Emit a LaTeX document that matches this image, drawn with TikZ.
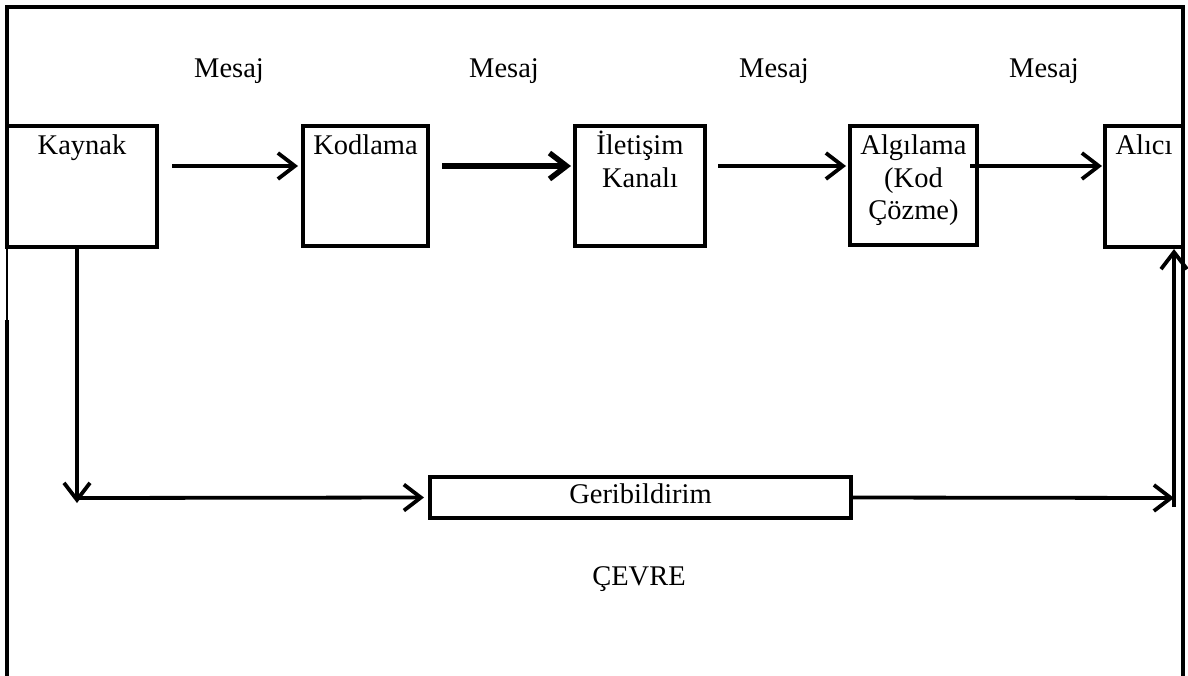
\documentclass[tikz,border=0pt]{standalone}
\usepackage{fontspec}
\setmainfont{Liberation Serif}
\usetikzlibrary{arrows.meta,calc}
\newcommand\tstrut{\rule{0pt}{24pt}}
\tikzset{
  txt/.style={font=\fontsize{28.5}{32.5}\selectfont, inner sep=0pt, outer sep=0pt},
  lbl/.style={txt, align=center, anchor=north, yshift=-5pt},
  box/.style={draw, line width=4pt, inner sep=0pt, outer sep=0pt},
  arr/.style={line width=3.8pt, -{Straight Barb[length=17pt,width=26pt]}},
  thickarr/.style={arr, line width=5.5pt},
  frame/.style={line width=4pt}
}
\begin{document}
\begin{tikzpicture}[x=1pt,y=-1pt]
\useasboundingbox (0,0) rectangle (1188,676);

% outer frame (open at the bottom)
\draw[frame] (7,247) -- (7,7) -- (1183,7) -- (1183,676);
\draw[line width=2pt] (7,247) -- (7,320);
\draw[frame] (6.5,320) -- (6.5,676);

% main chain boxes
\node[box, minimum width=150pt, minimum height=121pt,
      label={[lbl, name=kaynak-t]north:\tstrut Kaynak}] (kaynak) at (82,186.5) {};
\node[box, minimum width=125pt, minimum height=120pt,
      label={[lbl, name=kodlama-t]north:\tstrut Kodlama}] (kodlama) at (365.5,186) {};
\node[box, minimum width=130pt, minimum height=120pt,
      label={[lbl, name=kanal-t]north:\tstrut İletişim\\Kanalı}] (kanal) at (640,186) {};
\node[box, minimum width=127pt, minimum height=119pt,
      label={[lbl, name=algilama-t]north:\tstrut Algılama\\(Kod\\Çözme)}] (algilama) at (913.5,185.5) {};
\node[box, minimum width=78pt, minimum height=121pt,
      label={[lbl, name=alici-t]north:\tstrut Alıcı}] (alici) at (1144,186.5) {};

% feedback box
\node[box, line width=3.5pt, minimum width=421pt, minimum height=41pt,
      txt, text height=19pt, text depth=8pt] (geri) at (640.5,497.5) {Geribildirim};

% message labels
\node[txt, anchor=base] (m1) at (229,78) {Mesaj};
\node[txt, anchor=base] (m2) at (504,78) {Mesaj};
\node[txt, anchor=base] (m3) at (774,78) {Mesaj};
\node[txt, anchor=base] (m4) at (1044,78) {Mesaj};

% environment label
\node[txt, anchor=base] (cevre) at (639,585) {ÇEVRE};

% arrow row
\coordinate (row) at (0,166);
\draw[arr, shorten <=15pt, shorten >=5pt] (kaynak.east |- row) -- (kodlama.west |- row);
\draw[thickarr, shorten <=14pt, shorten >=4pt] (kodlama.east |- row) -- (kanal.west |- row);
\draw[arr, shorten <=13pt, shorten >=4pt] (kanal.east |- row) -- (algilama.west |- row);
\draw[arr, shorten <=-7pt, shorten >=3pt] (algilama.east |- row) -- (alici.west |- row);

% feedback loop
\coordinate (fbl) at (77,498);
\coordinate (fbld) at (77,503);
\coordinate (fbr) at (1174,498);
\coordinate (fbrd) at (1174,507);
\draw[arr] (kaynak.south -| fbl) -- (fbld);
\draw[arr, shorten >=6pt] (fbl) -- (geri.west);
\draw[arr] (geri.east) -- (fbr);
\draw[arr, shorten >=2pt] (fbrd) -- (alici.south -| fbrd);
\end{tikzpicture}
\end{document}
